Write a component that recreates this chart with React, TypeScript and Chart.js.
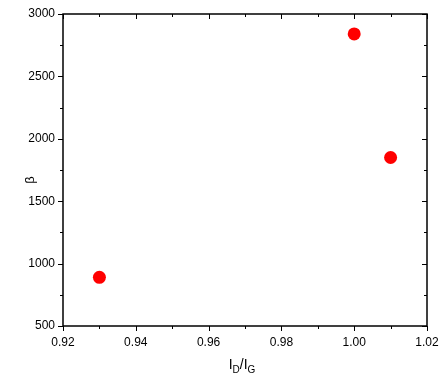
import React, { useEffect, useRef } from "react";
import { Chart, registerables } from "chart.js";

Chart.register(...registerables);

const ratioValues = [0.93, 1.0, 1.01];
const betaValues = [890, 2840, 1850];
const xMajorTicks = [0.92, 0.94, 0.96, 0.98, 1.0, 1.02];
const yMajorTicks = [500, 1000, 1500, 2000, 2500, 3000];

const FONT = "'Liberation Sans', Arial, sans-serif";

const framePlugin = {
  id: "frame",
  afterDraw(chart: any) {
    const { ctx, chartArea: a, scales } = chart;
    const xs = scales.x;
    const ys = scales.y;
    ctx.save();
    ctx.strokeStyle = "#000";
    ctx.lineWidth = 1.5;
    ctx.strokeRect(a.left, a.top, a.right - a.left, a.bottom - a.top);
    ctx.lineWidth = 1;
    ctx.beginPath();
    for (let v = 0.92; v <= 1.0201; v += 0.01) {
      const major = Math.round(v * 100) % 2 === 0;
      const px = Math.round(xs.getPixelForValue(v)) + 0.5;
      const len = major ? 5 : 3;
      ctx.moveTo(px, a.bottom);
      ctx.lineTo(px, a.bottom + len);
      ctx.moveTo(px, a.top);
      ctx.lineTo(px, a.top + len);
    }
    for (let v = 500; v <= 3000; v += 250) {
      const major = v % 500 === 0;
      const py = Math.round(ys.getPixelForValue(v)) + 0.5;
      const len = major ? 5 : 3;
      ctx.moveTo(a.left, py);
      ctx.lineTo(a.left - len, py);
      ctx.moveTo(a.right, py);
      ctx.lineTo(a.right - len, py);
    }
    ctx.stroke();

    ctx.fillStyle = "#000";
    ctx.save();
    ctx.translate(30, (a.top + a.bottom) / 2 + 10);
    ctx.rotate(-Math.PI / 2);
    ctx.font = `13px ${FONT}`;
    ctx.textAlign = "center";
    ctx.textBaseline = "middle";
    ctx.fillText("β", 0, 0);
    ctx.restore();

    const cx = (a.left + a.right) / 2;
    const base = 369;
    const big = `14px ${FONT}`;
    const small = `10px ${FONT}`;
    const parts: [string, boolean][] = [["I", false], ["D", true], ["/", false], ["I", false], ["G", true]];
    let total = 0;
    for (const [t, sub] of parts) {
      ctx.font = sub ? small : big;
      total += ctx.measureText(t).width;
    }
    let x = cx - total / 2 - 3;
    ctx.textAlign = "left";
    ctx.textBaseline = "alphabetic";
    for (const [t, sub] of parts) {
      ctx.font = sub ? small : big;
      ctx.fillText(t, x, sub ? base + 4 : base);
      x += ctx.measureText(t).width;
    }
    ctx.restore();
  },
};

export default function App() {
  const ref = useRef<HTMLCanvasElement>(null);
  useEffect(() => {
    if (!ref.current) return;
    const chart = new Chart(ref.current, {
      type: "scatter",
      data: {
        datasets: [
          {
            data: ratioValues.map((x, i) => ({ x, y: betaValues[i] })),
            backgroundColor: "#ff0000",
            borderColor: "#ff0000",
            pointRadius: 6.5,
            pointHoverRadius: 6.5,
            borderWidth: 0,
          },
        ],
      },
      options: {
        animation: false,
        responsive: false,
        layout: { padding: { top: 14, right: 12, left: 0, bottom: 0 } },
        plugins: { legend: { display: false }, tooltip: { enabled: false } },
        scales: {
          x: {
            type: "linear",
            min: 0.92,
            max: 1.02,
            afterBuildTicks: (s: any) => {
              s.ticks = xMajorTicks.map((v) => ({ value: v }));
            },
            afterFit: (s: any) => {
              s.height = 59;
              s.paddingLeft = 0;
              s.paddingRight = 0;
            },
            grid: { display: false, drawTicks: false },
            border: { display: false },
            ticks: {
              color: "#000",
              font: { family: FONT, size: 12 },
              padding: 9,
              maxRotation: 0,
              callback: (v: any) => Number(v).toFixed(2),
            },
          },
          y: {
            type: "linear",
            min: 500,
            max: 3000,
            afterBuildTicks: (s: any) => {
              s.ticks = yMajorTicks.map((v) => ({ value: v }));
            },
            afterFit: (s: any) => {
              s.width = 63;
              s.paddingTop = 0;
              s.paddingBottom = 0;
            },
            grid: { display: false, drawTicks: false },
            border: { display: false },
            ticks: {
              color: "#000",
              font: { family: FONT, size: 12 },
              padding: 8,
              callback: (v: any) => String(v),
            },
          },
        },
      },
      plugins: [framePlugin],
    });
    return () => chart.destroy();
  }, []);
  return (
    <div style={{ position: "fixed", left: 0, top: 0, width: 439, height: 385, background: "#fff" }}>
      <canvas ref={ref} width={439} height={385} />
    </div>
  );
}
